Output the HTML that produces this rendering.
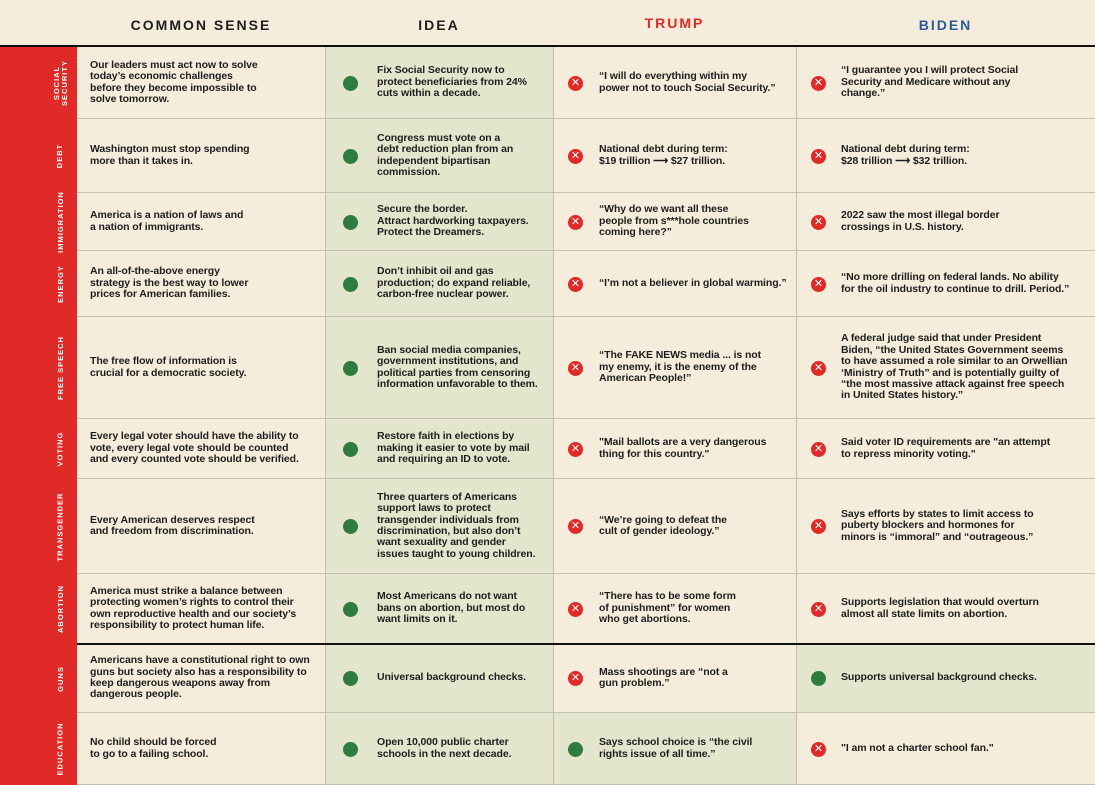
<!DOCTYPE html>
<html><head><meta charset="utf-8"><style>
*{margin:0;padding:0;box-sizing:border-box}
body{width:1095px;height:785px;background:#f5ecdc;font-family:"Liberation Sans",sans-serif;position:relative;overflow:hidden;color:#1e1e1e}
.h{position:absolute;top:17px;font-size:14px;letter-spacing:2px;font-weight:bold;text-align:center}
.side{position:absolute;left:0;top:47px;width:77px;height:738px;background:#e02a27}
.c{position:absolute;display:flex;align-items:center;font-size:10.5px;font-weight:bold;line-height:11.4px;border-bottom:1px solid #c4beb0;letter-spacing:-0.1px}
.g{background:#e3e6cd}
.vl{position:absolute;top:47px;height:738px;width:1px;background:#c4beb0}
.lab{position:absolute;left:0;width:77px;display:flex;align-items:center;justify-content:center}
.lab span{display:block;transform:rotate(-90deg);color:#fff;font-size:7.5px;font-weight:bold;letter-spacing:1px;white-space:nowrap;text-align:center;line-height:8px;margin-left:44px}
.dot{position:absolute;width:15px;height:15px;border-radius:50%;background:#2e7d3e}
.x{position:absolute;width:15px;height:15px;border-radius:50%;background:#e02a27;color:#fff;font-size:11px;line-height:15px;text-align:center;font-weight:normal}
</style></head><body>
<div class="h" style="left:77px;width:248px">COMMON SENSE</div>
<div class="h" style="left:325px;width:228px">IDEA</div>
<div class="h" style="left:553px;width:243px;color:#e02a27;top:15px">TRUMP</div>
<div class="h" style="left:796px;width:299px;color:#2a5a9a">BIDEN</div>
<div style="position:absolute;left:0;top:45px;width:1095px;height:2px;background:#111"></div>
<div class="side"></div>
<div id="t"></div>
<script>
const rows=[
[47,119,"SOCIAL<br>SECURITY","Our leaders must act now to solve<br>today’s economic challenges<br>before they become impossible to<br>solve tomorrow.","Fix Social Security now to<br>protect beneficiaries from 24%<br>cuts within a decade.",0,"“I will do everything within my<br>power not to touch Social Security.”",0,"“I guarantee you I will protect Social<br>Security and Medicare without any<br>change.”"],
[119,193,"DEBT","Washington must stop spending<br>more than it takes in.","Congress must vote on a<br>debt reduction plan from an<br>independent bipartisan<br>commission.",0,"National debt during term:<br>$19 trillion ⟶ $27 trillion.",0,"National debt during term:<br>$28 trillion ⟶ $32 trillion."],
[193,251,"IMMIGRATION","America is a nation of laws and<br>a nation of immigrants.","Secure the border.<br>Attract hardworking taxpayers.<br>Protect the Dreamers.",0,"“Why do we want all these<br>people from s***hole countries<br>coming here?”",0,"2022 saw the most illegal border<br>crossings in U.S. history."],
[251,317,"ENERGY","An all-of-the-above energy<br>strategy is the best way to lower<br>prices for American families.","Don’t inhibit oil and gas<br>production; do expand reliable,<br>carbon-free nuclear power.",0,"“I’m not a believer in global warming.”",0,"“No more drilling on federal lands. No ability<br>for the oil industry to continue to drill. Period.”"],
[317,419,"FREE SPEECH","The free flow of information is<br>crucial for a democratic society.","Ban social media companies,<br>government institutions, and<br>political parties from censoring<br>information unfavorable to them.",0,"“The FAKE NEWS media ... is not<br>my enemy, it is the enemy of the<br>American People!”",0,"A federal judge said that under President<br>Biden, “the United States Government seems<br>to have assumed a role similar to an Orwellian<br>‘Ministry of Truth” and is potentially guilty of<br>“the most massive attack against free speech<br>in United States history.”"],
[419,479,"VOTING","Every legal voter should have the ability to<br>vote, every legal vote should be counted<br>and every counted vote should be verified.","Restore faith in elections by<br>making it easier to vote by mail<br>and requiring an ID to vote.",0,"\"Mail ballots are a very dangerous<br>thing for this country.\"",0,"Said voter ID requirements are \"an attempt<br>to repress minority voting.\""],
[479,574,"TRANSGENDER","Every American deserves respect<br>and freedom from discrimination.","Three quarters of Americans<br>support laws to protect<br>transgender individuals from<br>discrimination, but also don’t<br>want sexuality and gender<br>issues taught to young children.",0,"“We’re going to defeat the<br>cult of gender ideology.”",0,"Says efforts by states to limit access to<br>puberty blockers and hormones for<br>minors is “immoral” and “outrageous.”"],
[574,644,"ABORTION","America must strike a balance between<br>protecting women’s rights to control their<br>own reproductive health and our society’s<br>responsibility to protect human life.","Most Americans do not want<br>bans on abortion, but most do<br>want limits on it.",0,"“There has to be some form<br>of punishment” for women<br>who get abortions.",0,"Supports legislation that would overturn<br>almost all state limits on abortion."],
[644,713,"GUNS","Americans have a constitutional right to own<br>guns but society also has a responsibility to<br>keep dangerous weapons away from<br>dangerous people.","Universal background checks.",0,"Mass shootings are “not a<br>gun problem.”",1,"Supports universal background checks."],
[713,785,"EDUCATION","No child should be forced<br>to go to a failing school.","Open 10,000 public charter<br>schools in the next decade.",1,"Says school choice is “the civil<br>rights issue of all time.”",0,"\"I am not a charter school fan.\""]];
let h="";
for(const r of rows){
 const[t,b,l,cs,id,tg,tt,bg,bt]=r,H=b-t,cy=t+H/2-7.5;
 h+=`<div class="lab" style="top:${t}px;height:${H}px"><span>${l}</span></div>`;
 h+=`<div class="c" style="left:77px;top:${t}px;width:248px;height:${H}px;padding-left:13px">${cs}</div>`;
 h+=`<div class="c g" style="left:325px;top:${t}px;width:228px;height:${H}px;padding-left:52px">${id}</div><div class="dot" style="left:343px;top:${cy}px"></div>`;
 h+=`<div class="c${tg?' g':''}" style="left:553px;top:${t}px;width:243px;height:${H}px;padding-left:46px">${tt}</div>`;
 h+=tg?`<div class="dot" style="left:568px;top:${cy}px"></div>`:`<div class="x" style="left:568px;top:${cy}px">✕</div>`;
 h+=`<div class="c${bg?' g':''}" style="left:796px;top:${t}px;width:299px;height:${H}px;padding-left:45px">${bt}</div>`;
 h+=bg?`<div class="dot" style="left:811px;top:${cy}px"></div>`:`<div class="x" style="left:811px;top:${cy}px">✕</div>`;
}
h+='<div class="vl" style="left:325px"></div><div class="vl" style="left:553px"></div><div class="vl" style="left:796px"></div>';
h+='<div style="position:absolute;left:77px;top:643px;width:1018px;height:2px;background:#111"></div>';
document.getElementById("t").innerHTML=h;
</script>
</body></html>
